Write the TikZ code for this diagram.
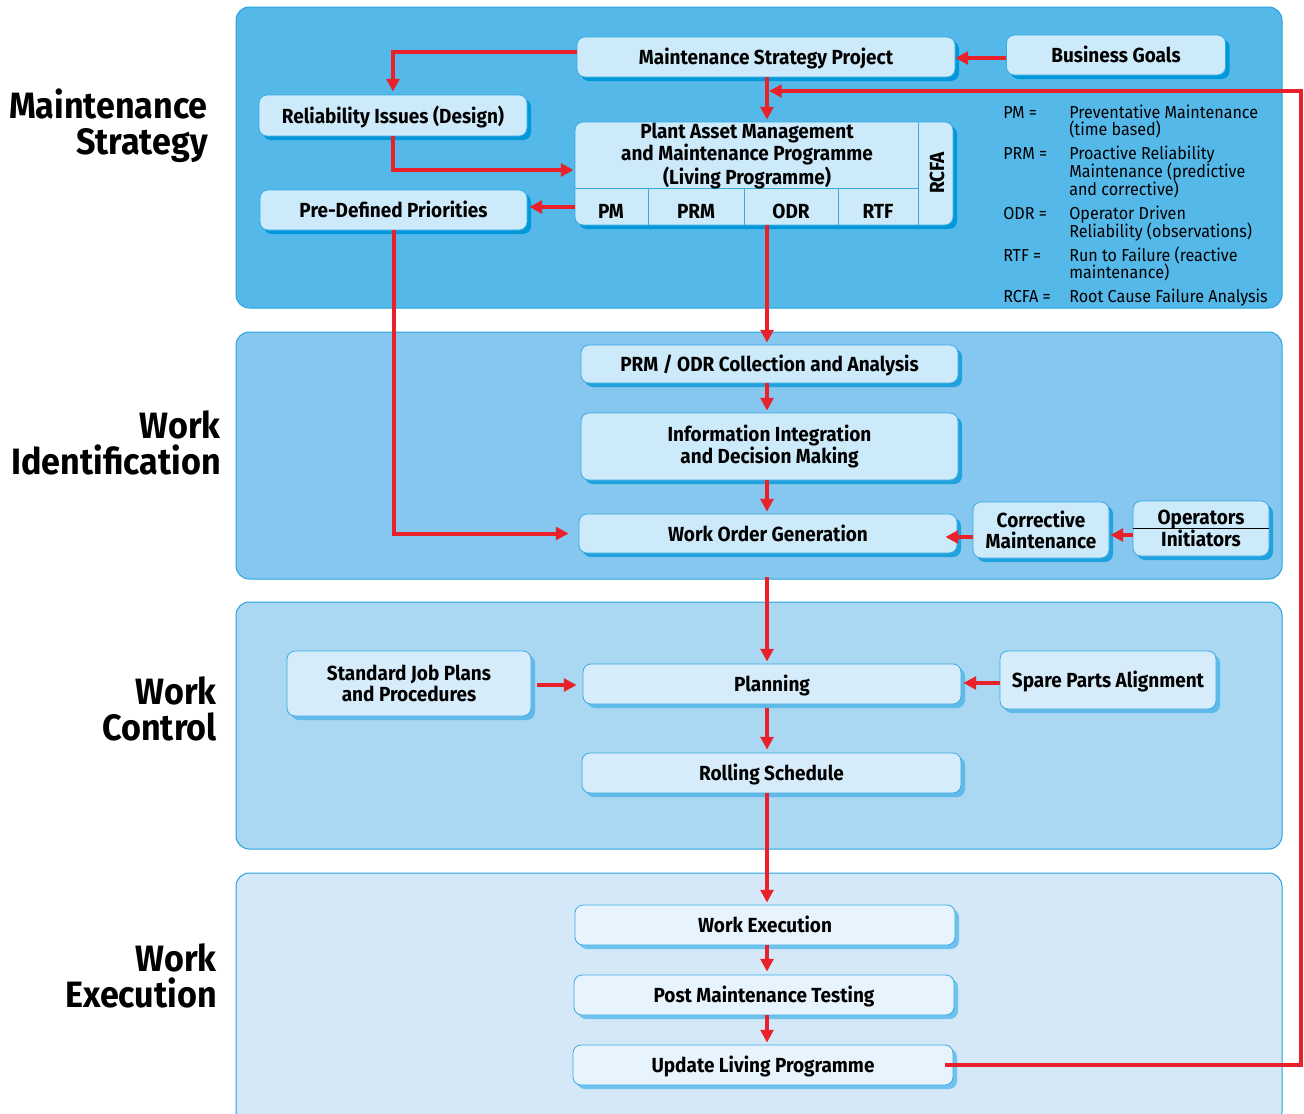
\documentclass[tikz,border=0pt]{standalone}
\usepackage{fontspec}
\setmainfont[FakeStretch=0.93]{Fira Sans}
\usetikzlibrary{arrows.meta,shadows,calc}
\definecolor{panA}{HTML}{54B8E8}
\definecolor{panB}{HTML}{85C7EF}
\definecolor{panC}{HTML}{AAD7F2}
\definecolor{panD}{HTML}{D5E8F7}
\definecolor{panline}{HTML}{29A3DD}
\definecolor{boxA}{HTML}{CCEAFA}
\definecolor{boxC}{HTML}{D6ECFA}
\definecolor{boxD}{HTML}{E8F4FD}
\definecolor{shA}{HTML}{0098DA}
\definecolor{shB}{HTML}{20A2DE}
\definecolor{shC}{HTML}{5FBAE9}
\definecolor{shD}{HTML}{6EC3EE}
\definecolor{boxline}{HTML}{3AAAE2}
\definecolor{redline}{HTML}{E8212B}
\newcommand\pxu{*0.75pt}
\newcommand\boxf{\fontsize{15.3}{15.75}\selectfont\bfseries}
\newcommand\titf{\fontsize{27.5}{27}\selectfont\bfseries}
\newcommand\legf{\fontsize{13}{13}\selectfont}
\tikzset{
  panel/.style={draw=panline, line width=0.75pt, rounded corners=10pt},
  box/.style={draw=boxline, line width=0.6pt, rounded corners=6pt, inner sep=0pt,
    align=center, font=\boxf, text=black},
  one/.style={text height=13pt, text depth=1.5pt},
  bA/.style={box, fill=boxA, drop shadow={shadow xshift=3pt, shadow yshift=-3pt, opacity=1, fill=shA}},
  bB/.style={box, fill=boxA, drop shadow={shadow xshift=3pt, shadow yshift=-3pt, opacity=1, fill=shB}},
  bC/.style={box, fill=boxC, drop shadow={shadow xshift=3pt, shadow yshift=-3pt, opacity=1, fill=shC}},
  bD/.style={box, fill=boxD, drop shadow={shadow xshift=3pt, shadow yshift=-3pt, opacity=1, fill=shD}},
  arr/.style={draw=redline, line width=3pt, -{Triangle[length=9.5pt,width=9.5pt]}},
  title/.style={font=\titf, align=right, anchor=east, inner sep=0pt},
  leg/.style={font=\legf, anchor=base west, inner sep=0pt},
  cell/.style={font=\boxf, inner sep=0pt}
}
\begin{document}
\begin{tikzpicture}[x=0.75pt,y=-0.75pt]
\useasboundingbox (0,0) rectangle (1304,1114);
\clip (0,0) rectangle (1304,1114);
% panels
\path[panel, fill=panA] (236,7) rectangle (1282,308);
\path[panel, fill=panB] (236,332) rectangle (1282,579);
\path[panel, fill=panC] (236,602) rectangle (1282,849);
\path[panel, fill=panD] (236,873) rectangle (1282,1124);
% titles
\node[title] (t1) at (208,126) {Maintenance\\Strategy};
\node[title] (t2) at (221,443) {Work\\Identification};
\node[title] (t3) at (217,709) {Work\\Control};
\node[title] (t4) at (217,976) {Work\\Execution};
% spine
\coordinate (spine) at (767,0);
% panel 1
\node[bA, one, minimum width=378\pxu, minimum height=40\pxu] (msp) at (766,57) {Maintenance Strategy Project};
\node[bA, one, minimum width=219\pxu, minimum height=40\pxu] (bg) at (1116,55) {Business Goals};
\node[bA, one, minimum width=268\pxu, minimum height=41\pxu] (rel) at (393,115.5) {Reliability Issues (Design)};
\node[bA, one, minimum width=267\pxu, minimum height=40\pxu] (pdp) at (393.5,210) {Pre-Defined Priorities};
\node[bA, minimum width=378\pxu, minimum height=103\pxu] (plant) at (764,173.5) {};
\draw[boxline, line width=0.6pt] (575,188) -- (918,188);
\draw[boxline, line width=0.6pt] (918,122) -- (918,225);
\draw[boxline, line width=0.6pt] (648,188) -- (648,225);
\draw[boxline, line width=0.6pt] (744,188) -- (744,225);
\draw[boxline, line width=0.6pt] (838,188) -- (838,225);
\node[cell, align=center] (plantt) at (747,156) {Plant Asset Management\\and Maintenance Programme\\(Living Programme)};
\node[cell] (pm) at (611,211) {PM};
\node[cell] (prm) at (696,211) {PRM};
\node[cell] (odr) at (791,211) {ODR};
\node[cell] (rtf) at (878,211) {RTF};
\node[cell, rotate=90] (rcfa) at (937,173) {RCFA};
% legend
\node[leg] (l1) at (1003,118) {PM =};
\node[leg] (d1) at (1069,118) {Preventative Maintenance};
\node[leg] (d1b) at (1069,135) {(time based)};
\node[leg] (l2) at (1003,159) {PRM =};
\node[leg] (d2) at (1069,159) {Proactive Reliability};
\node[leg] (d2b) at (1069,177) {Maintenance (predictive};
\node[leg] (d2c) at (1069,195) {and corrective)};
\node[leg] (l3) at (1003,219) {ODR =};
\node[leg] (d3) at (1069,219) {Operator Driven};
\node[leg] (d3b) at (1069,237) {Reliability (observations)};
\node[leg] (l4) at (1003,261) {RTF =};
\node[leg] (d4) at (1069,261) {Run to Failure (reactive};
\node[leg] (d4b) at (1069,278) {maintenance)};
\node[leg] (l5) at (1003,302) {RCFA =};
\node[leg] (d5) at (1069,302) {Root Cause Failure Analysis};
% panel 2
\node[bB, one, minimum width=377\pxu, minimum height=38\pxu] (prmodr) at (769.5,364) {PRM / ODR Collection and Analysis};
\node[bB, minimum width=377\pxu, minimum height=67\pxu] (info) at (769.5,446.5) {Information Integration\\and Decision Making};
\node[bB, one, minimum width=378\pxu, minimum height=39\pxu] (wog) at (768,533.5) {Work Order Generation};
\node[bB, minimum width=136\pxu, minimum height=56\pxu] (corr) at (1041,530) {Corrective\\Maintenance};
\node[bB, minimum width=136\pxu, minimum height=55\pxu] (ops) at (1201,528.5) {Operators\\Initiators};
\draw[black, line width=0.75pt] ($(ops.west)+(0,-0.5)$) -- ($(ops.east)+(0,-0.5)$);
% panel 3
\node[bC, minimum width=244\pxu, minimum height=65\pxu] (sjp) at (409,683.5) {Standard Job Plans\\and Procedures};
\node[bC, one, minimum width=378\pxu, minimum height=40\pxu] (plan) at (772,684) {Planning};
\node[bC, one, minimum width=216\pxu, minimum height=58\pxu] (spare) at (1108,680) {Spare Parts Alignment};
\node[bC, one, minimum width=379\pxu, minimum height=40\pxu] (roll) at (771.5,773) {Rolling Schedule};
% panel 4
\node[bD, one, minimum width=380\pxu, minimum height=40\pxu] (wex) at (765,925) {Work Execution};
\node[bD, one, minimum width=380\pxu, minimum height=40\pxu] (pmt) at (764,995) {Post Maintenance Testing};
\node[bD, one, minimum width=380\pxu, minimum height=40\pxu] (ulp) at (763,1065) {Update Living Programme};
% connectors
\coordinate (fbR) at (1301,1065);
\coordinate (fbT) at (1301,91);
\draw[arr] ($(msp.west)+(0,-5)$) -| ($(rel.north)+(0,-3)$);
\draw[arr] ($(bg.west)+(0,3)$) coordinate (bgw) -- (bgw -| msp.east);
\draw[arr] (msp.south -| spine) -- ($(plant.north -| spine)+(0,-2)$);
\draw[arr] ($(ulp.east)+(-8,0)$) -- (fbR) -- (fbT) -- ($(fbT -| spine)+(2,0)$);
\draw[arr] (rel.south) |- ($(plant.west)+(-1,-3.5)$);
\draw[arr] ($(plant.west)+(0,33.5)$) coordinate (pw) -- ($(pw -| pdp.east)+(2,0)$);
\draw[arr] (pdp.south) |- ($(wog.west)+(-10,0)$);
\draw[arr] (plant.south -| spine) -- ($(prmodr.north -| spine)+(0,-2)$);
\draw[arr] (prmodr.south -| spine) -- ($(info.north -| spine)+(0,-2)$);
\draw[arr] (info.south -| spine) -- ($(wog.north -| spine)+(0,-2)$);
\draw[arr] ($(corr.west)+(0,7)$) coordinate (cw) -- ($(cw -| wog.east)+(-12,0)$);
\draw[arr] ($(ops.west)+(0,6.5)$) coordinate (ow) -- ($(ow -| corr.east)+(1,0)$);
\draw[arr] ($(wog.south -| spine)+(0,24)$) -- ($(plan.north -| spine)+(0,-2)$);
\draw[arr] ($(sjp.east)+(6,1.5)$) coordinate (se) -- ($(se -| plan.west)+(-6,0)$);
\draw[arr] ($(spare.west)+(0,3)$) coordinate (sw) -- ($(sw -| plan.east)+(2,0)$);
\draw[arr] ($(plan.south -| spine)+(0,4)$) -- ($(roll.north -| spine)+(0,-3)$);
\draw[arr] (roll.south -| spine) -- ($(wex.north -| spine)+(0,-2)$);
\draw[arr] (wex.south -| spine) -- ($(pmt.north -| spine)+(0,-3)$);
\draw[arr] (pmt.south -| spine) -- ($(ulp.north -| spine)+(0,-2)$);
\end{tikzpicture}
\end{document}
